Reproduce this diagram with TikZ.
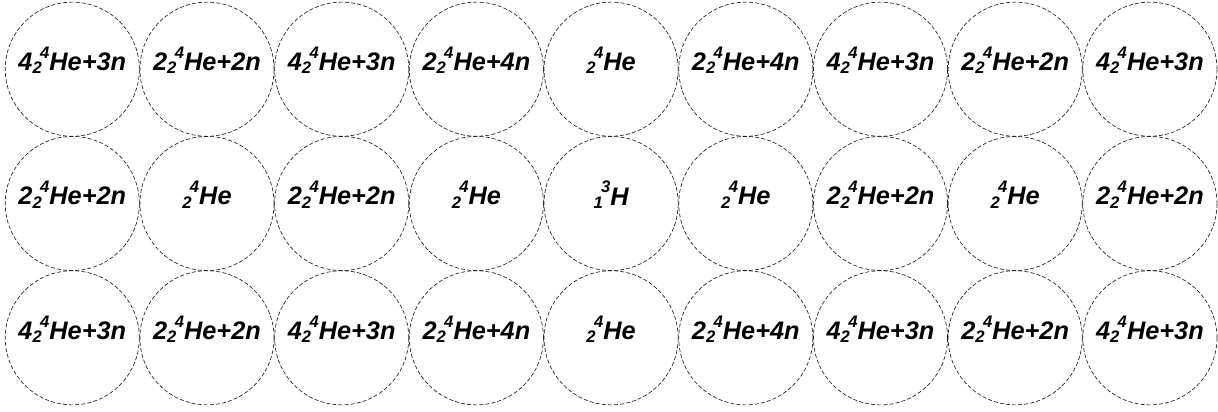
\documentclass[tikz,border=0pt]{standalone}
\usepackage{fontspec}
\setmainfont{Liberation Sans}
\definecolor{ringline}{HTML}{222222}
% coefficient, Z, A, rest
\newcommand{\nuc}[4]{#1\rlap{\raisebox{-0.12em}{\fontsize{12.5}{12.5}\selectfont #2}}\kern0.3em\raisebox{0.48em}{\fontsize{12.5}{12.5}\selectfont #3}#4}

\begin{document}
\begin{tikzpicture}[
      x=0.75pt, y=-0.75pt,
      cell/.style={circle, draw=ringline, line width=0.5pt,
                   dash pattern=on 3pt off 1.6pt,
                   minimum size=100.6pt, inner sep=0pt},
      lbl/.style={font=\fontsize{19}{21}\selectfont\bfseries\itshape,
                  inner sep=0pt, yshift=6.6pt}
    ]
      \useasboundingbox (0,0) rectangle (1218,411);

      % cells, row by row
      \foreach \txt [count=\k from 0] in {
          {\nuc{4}{2}{4}{He+3n}}, {\nuc{2}{2}{4}{He+2n}}, {\nuc{4}{2}{4}{He+3n}},
          {\nuc{2}{2}{4}{He+4n}}, {\nuc{}{2}{4}{He}},     {\nuc{2}{2}{4}{He+4n}},
          {\nuc{4}{2}{4}{He+3n}}, {\nuc{2}{2}{4}{He+2n}}, {\nuc{4}{2}{4}{He+3n}},
          {\nuc{2}{2}{4}{He+2n}}, {\nuc{}{2}{4}{He}},     {\nuc{2}{2}{4}{He+2n}},
          {\nuc{}{2}{4}{He}},     {\nuc{}{1}{3}{H}},      {\nuc{}{2}{4}{He}},
          {\nuc{2}{2}{4}{He+2n}}, {\nuc{}{2}{4}{He}},     {\nuc{2}{2}{4}{He+2n}},
          {\nuc{4}{2}{4}{He+3n}}, {\nuc{2}{2}{4}{He+2n}}, {\nuc{4}{2}{4}{He+3n}},
          {\nuc{2}{2}{4}{He+4n}}, {\nuc{}{2}{4}{He}},     {\nuc{2}{2}{4}{He+4n}},
          {\nuc{4}{2}{4}{He+3n}}, {\nuc{2}{2}{4}{He+2n}}, {\nuc{4}{2}{4}{He+3n}}}
      {
        \pgfmathtruncatemacro\col{mod(\k,9)}
        \pgfmathtruncatemacro\row{div(\k,9)}
        \node[cell, label={[lbl]center:\txt}] (c\row\col)
          at ({72.3+134.7*\col},{69.2+134.3*\row}) {};
      }
    \end{tikzpicture}
\end{document}
